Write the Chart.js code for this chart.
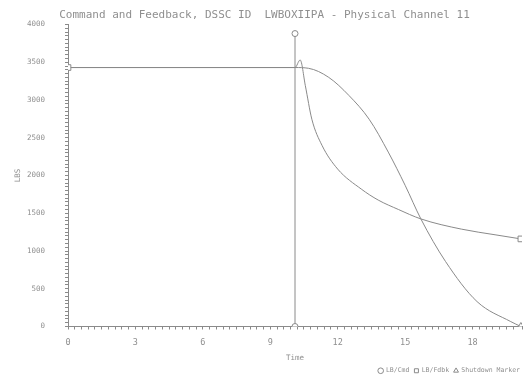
<!DOCTYPE html>
<html>
<head>
<meta charset="utf-8">
<script src="https://cdn.jsdelivr.net/npm/chart.js@4"></script>
<style>
  html, body { margin: 0; padding: 0; background: #fff; }
  #wrap { width: 530px; height: 380px; }
</style>
</head>
<body>
<div id="wrap"><canvas id="lbsChart"></canvas></div>
<script>
//------------------------------DATA------------------------------------
const seriesNames = ['LB/Cmd', 'LB/Fdbk', 'Shutdown Marker'];

// command step (circle markers)
const cmdTime = [10.1, 10.1];
const cmdLbs = [0, 3880];

// fast decaying curve (square markers)
const fdbkTime = [0, 10.1, 10.33, 10.56, 10.85, 11.3, 12.0, 13.05, 13.8, 14.7, 15.7, 17.5, 19.0, 20.15];
const fdbkLbs = [3430, 3430, 3530, 3190, 2745, 2400, 2085, 1820, 1675, 1550, 1425, 1290, 1215, 1160];

// smooth ramp down (triangle markers)
const rampTime = [0, 10.1, 10.7, 11.6, 12.5, 13.4, 14.25, 15.0, 15.7, 16.8, 18.2, 19.7, 20.15];
const rampLbs = [3430, 3430, 3420, 3300, 3060, 2745, 2310, 1870, 1425, 860, 330, 65, 0];

const xTickLabels = [0, 3, 6, 9, 12, 15, 18];
const yTickLabels = [0, 500, 1000, 1500, 2000, 2500, 3000, 3500, 4000];

//------------------------------HELPERS---------------------------------
const lineColor = '#8a8a8a';
const textColor = '#8f8f8f';
const monoFont = "'DejaVu Sans Mono', monospace";

function toPoints(xs, ys) {
    return xs.map((x, i) => ({ x: x, y: ys[i] }));
}

// marker radius for the chosen point indexes, 0 elsewhere
function markersAt(n, idx, r) {
    return Array.from({ length: n }, (_, i) => idx.includes(i) ? r : 0);
}

function isLabelled(list, value) {
    return list.some(v => Math.abs(v - value) < 1e-6);
}

//------------------------------CHART-----------------------------------
const ctx = document.getElementById('lbsChart').getContext('2d');
const lbsChart = new Chart(ctx, {
    type: 'line',
    data: {
        datasets: [
            {
                label: seriesNames[0],
                data: toPoints(cmdTime, cmdLbs),
                borderColor: lineColor,
                borderWidth: 1,
                pointStyle: 'circle',
                pointRadius: 3,
                pointBorderWidth: 1,
                pointBackgroundColor: '#fff',
                pointBorderColor: lineColor,
                tension: 0
            },
            {
                label: seriesNames[1],
                data: toPoints(fdbkTime, fdbkLbs),
                borderColor: lineColor,
                borderWidth: 1,
                pointStyle: 'rect',
                pointRadius: markersAt(fdbkTime.length, [0, fdbkTime.length - 1], 4),
                pointBorderWidth: 1,
                pointBackgroundColor: '#fff',
                pointBorderColor: lineColor,
                cubicInterpolationMode: 'monotone'
            },
            {
                label: seriesNames[2],
                data: toPoints(rampTime, rampLbs),
                borderColor: lineColor,
                borderWidth: 1,
                pointStyle: 'triangle',
                pointRadius: markersAt(rampTime.length, [rampTime.length - 1], 4),
                pointBorderWidth: 1,
                pointBackgroundColor: '#fff',
                pointBorderColor: lineColor,
                cubicInterpolationMode: 'monotone'
            }
        ]
    },
    options: {
        responsive: true,
        maintainAspectRatio: false,
        animation: false,
        layout: { padding: { top: 0, left: 4, right: 5, bottom: -4 } },
        plugins: {
            title: {
                display: true,
                text: 'Command and Feedback, DSSC ID  LWBOXIIPA - Physical Channel 11',
                color: textColor,
                font: { family: monoFont, size: 11, weight: 'normal' },
                padding: { top: 7, bottom: 3 },
                align: 'center'
            },
            legend: {
                display: true,
                position: 'bottom',
                align: 'end',
                labels: {
                    color: textColor,
                    font: { family: monoFont, size: 6.5 },
                    usePointStyle: true,
                    boxWidth: 4,
                    boxHeight: 4,
                    padding: 5
                }
            },
            tooltip: { enabled: false }
        },
        scales: {
            x: {
                type: 'linear',
                min: 0,
                max: 20.2,
                afterFit: (scale) => { scale.height = 36; },
                border: { color: lineColor, width: 1 },
                grid: { drawOnChartArea: false, color: lineColor, tickLength: 3 },
                ticks: {
                    stepSize: 0.3,
                    autoSkip: false,
                    maxRotation: 0,
                    padding: 8,
                    color: textColor,
                    font: { family: monoFont, size: 8.5 },
                    callback: (value) => isLabelled(xTickLabels, value) ? Math.round(value) : ''
                },
                title: {
                    display: true,
                    text: 'Time',
                    color: textColor,
                    font: { family: monoFont, size: 7.5 },
                    padding: { top: 2, bottom: 0 }
                }
            },
            y: {
                min: 0,
                max: 4000,
                afterFit: (scale) => { scale.width = 64; },
                border: { color: lineColor, width: 1 },
                grid: { drawOnChartArea: false, color: lineColor, tickLength: 3 },
                ticks: {
                    stepSize: 50,
                    autoSkip: false,
                    padding: 20,
                    color: textColor,
                    font: { family: monoFont, size: 7.5 },
                    callback: (value) => isLabelled(yTickLabels, value) ? value : ''
                },
                title: {
                    display: true,
                    text: 'LBS',
                    color: textColor,
                    font: { family: monoFont, size: 7.5 },
                    padding: { top: 10, bottom: 2 }
                }
            }
        }
    }
});
</script>
</body>
</html>
